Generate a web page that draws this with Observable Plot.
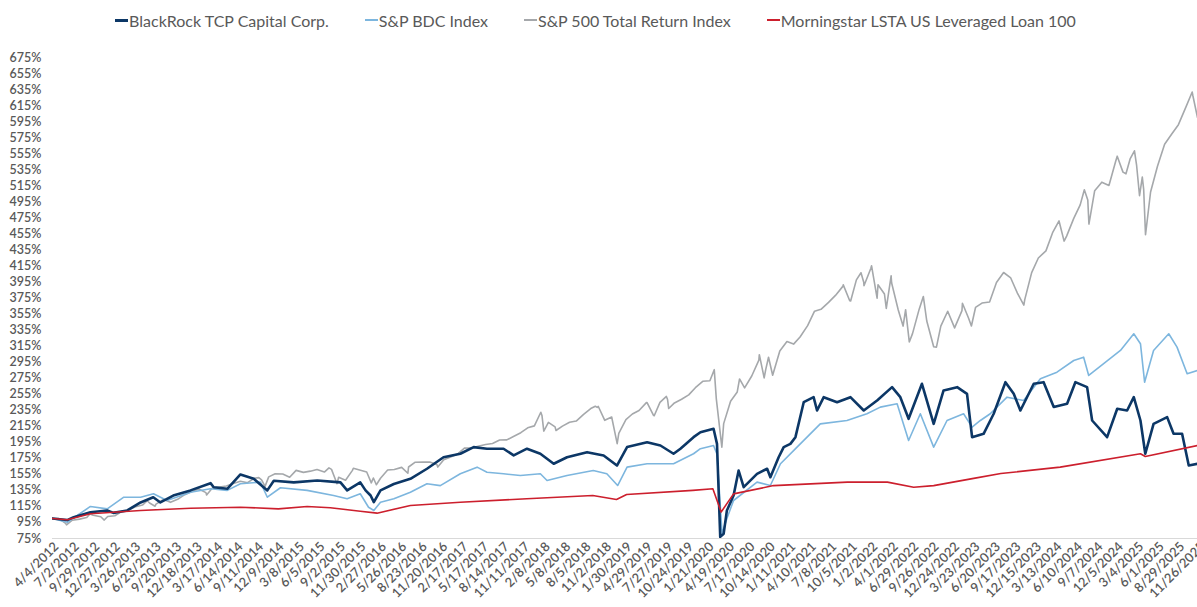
<!DOCTYPE html>
<html>
<head>
<meta charset="utf-8">
<script src="https://cdn.jsdelivr.net/npm/d3@7"></script>
<script src="https://cdn.jsdelivr.net/npm/@observablehq/plot@0.6"></script>
<style>
  html, body { margin: 0; padding: 0; background: #fff; }
  body { width: 1197px; height: 607px; overflow: hidden; font-family: Lato, "Open Sans", sans-serif; }
  #legend { height: 40px; display: flex; align-items: center; justify-content: center; gap: 36px; color: #595959; font-size: 16px; padding-right: 6px; box-sizing: border-box; }
  #legend .item { display: flex; align-items: center; white-space: nowrap; }
  #legend .sw { display: inline-block; width: 13px; margin-right: 1px; }
  #chart svg { display: block; }
</style>
</head>
<body>
<div id="legend"></div>
<div id="chart"></div>
<script>
// ---------- series names / colours ----------
const seriesNames = ["BlackRock TCP Capital Corp.", "S&P BDC Index", "S&P 500 Total Return Index", "Morningstar LSTA US Leveraged Loan 100"];
const seriesColors = ["#0c3766", "#7db6de", "#a5a8ab", "#cc1f2d"];

// ---------- axis ticks ----------
const xTickLabels = ["4/4/2012","7/2/2012","9/29/2012","12/27/2012","3/26/2013","6/23/2013","9/20/2013","12/18/2013","3/17/2014","6/14/2014","9/11/2014","12/9/2014","3/8/2015","6/5/2015","9/2/2015","11/30/2015","2/27/2016","5/26/2016","8/23/2016","11/20/2016","2/17/2017","5/17/2017","8/14/2017","11/11/2017","2/8/2018","5/8/2018","8/5/2018","11/2/2018","1/30/2019","4/29/2019","7/27/2019","10/24/2019","1/21/2020","4/19/2020","7/17/2020","10/14/2020","1/11/2021","4/10/2021","7/8/2021","10/5/2021","1/2/2022","4/1/2022","6/29/2022","9/26/2022","12/24/2022","3/23/2023","6/20/2023","9/17/2023","12/15/2023","3/13/2024","6/10/2024","9/7/2024","12/5/2024","3/4/2025","6/1/2025","8/29/2025","11/26/2025"];
const yTicks = [75,95,115,135,155,175,195,215,235,255,275,295,315,335,355,375,395,415,435,455,475,495,515,535,555,575,595,615,635,655,675];
const xStart = "2012-04-04", xEnd = "2025-11-20";

// ---------- S&P 500 Total Return Index ----------
const spxDates = [
"2012-04-04","2012-04-30","2012-05-31","2012-06-04","2012-06-29","2012-07-31","2012-08-31","2012-09-14","2012-09-28","2012-10-31","2012-11-15","2012-11-30","2012-12-31",
"2013-01-31","2013-02-28","2013-03-28","2013-04-30","2013-05-21","2013-05-31","2013-06-24","2013-06-28","2013-07-31","2013-08-30","2013-09-30","2013-10-31","2013-11-29","2013-12-31",
"2014-01-31","2014-02-03","2014-02-28","2014-03-31","2014-04-30","2014-05-30","2014-06-30","2014-07-31","2014-08-29","2014-09-18","2014-09-30","2014-10-15","2014-10-31","2014-11-28","2014-12-31",
"2015-01-30","2015-02-27","2015-03-31","2015-04-30","2015-05-29","2015-06-30","2015-07-20","2015-07-31","2015-08-24","2015-08-31","2015-09-30","2015-10-30","2015-11-03","2015-11-30","2015-12-31",
"2016-01-20","2016-01-29","2016-02-11","2016-02-29","2016-03-31","2016-04-29","2016-05-31","2016-06-27","2016-06-30","2016-07-29","2016-08-31","2016-09-30","2016-10-31","2016-11-04","2016-11-30","2016-12-30",
"2017-01-31","2017-02-28","2017-03-31","2017-04-28","2017-05-31","2017-06-30","2017-07-31","2017-08-31","2017-09-29","2017-10-31","2017-11-30","2017-12-29",
"2018-01-26","2018-01-31","2018-02-08","2018-02-28","2018-03-29","2018-04-02","2018-04-30","2018-05-31","2018-06-29","2018-07-31","2018-08-31","2018-09-20","2018-09-28","2018-10-03","2018-10-31","2018-11-30","2018-12-24","2018-12-31",
"2019-01-31","2019-02-28","2019-03-29","2019-04-30","2019-05-03","2019-05-31","2019-06-03","2019-06-28","2019-07-26","2019-07-31","2019-08-05","2019-08-30","2019-09-30","2019-10-31","2019-11-29","2019-12-31",
"2020-01-31","2020-02-19","2020-02-28","2020-03-23","2020-03-31","2020-04-30","2020-05-29","2020-06-08","2020-06-30","2020-07-31","2020-08-31","2020-09-02","2020-09-23","2020-09-30","2020-10-12","2020-10-30","2020-11-30","2020-12-31",
"2021-01-29","2021-02-26","2021-03-31","2021-04-30","2021-05-28","2021-06-30","2021-07-30","2021-08-31","2021-09-02","2021-09-30","2021-10-04","2021-10-29","2021-11-18","2021-11-30","2021-12-01","2021-12-31",
"2022-01-03","2022-01-27","2022-01-31","2022-02-28","2022-03-08","2022-03-29","2022-03-31","2022-04-29","2022-05-20","2022-05-31","2022-06-16","2022-06-30","2022-07-29","2022-08-16","2022-08-31","2022-09-30","2022-10-12","2022-10-31","2022-11-30","2022-12-30",
"2023-01-31","2023-02-02","2023-02-28","2023-03-13","2023-03-31","2023-04-28","2023-05-31","2023-06-30","2023-07-31","2023-08-31","2023-09-29","2023-10-27","2023-10-31","2023-11-30","2023-12-29",
"2024-01-31","2024-02-29","2024-03-28","2024-04-19","2024-04-30","2024-05-31","2024-06-28","2024-07-16","2024-07-31","2024-08-05","2024-08-30","2024-09-30","2024-10-31","2024-11-29","2024-12-06","2024-12-31",
"2025-01-13","2025-01-31","2025-02-19","2025-02-28","2025-03-13","2025-03-25","2025-03-31","2025-04-08","2025-04-30","2025-05-30","2025-06-30","2025-07-31","2025-08-29","2025-09-30","2025-10-28","2025-10-31","2025-11-20"];
const spxValues = [
100,100.0,93.9,92.0,97.8,99.2,101.3,105.7,104.0,102.1,98.0,102.5,103.4,
108.9,110.3,114.4,116.7,122.1,119.3,115.3,117.8,123.7,120.1,123.9,129.7,133.4,136.8,
132.2,129.3,138.1,139.3,140.4,143.5,146.5,144.6,150.2,150.9,148.1,140.0,151.9,155.7,155.4,
151.4,160.0,157.5,159.0,161.0,157.9,163.1,161.2,143.4,151.4,147.7,160.0,162.6,160.4,157.9,
144.4,150.5,142.0,150.2,160.4,161.0,163.7,156.4,164.2,170.2,170.3,170.4,167.2,164.1,173.2,176.8,
180.8,187.7,187.9,190.0,192.3,193.6,197.8,198.0,202.2,207.0,213.1,215.5,
232.5,228.5,209.0,219.8,214.3,209.7,215.2,220.1,221.5,229.9,237.1,239.9,238.6,239.7,222.4,226.6,193.3,206.1,
223.4,230.3,234.7,244.5,244.6,228.6,228.1,244.8,252.2,248.4,237.1,244.1,248.7,254.2,263.1,271.1,
271.8,285.6,249.1,188.9,218.3,246.2,257.8,274.0,262.8,277.7,297.5,304.3,275.3,286.0,301.1,278.6,308.8,320.8,
317.5,326.3,340.5,358.6,360.9,369.5,378.2,389.5,391.4,371.6,371.3,397.6,406.5,394.6,390.3,412.2,
415.2,374.8,391.6,380.0,362.0,402.7,394.0,360.0,340.0,360.4,320.2,330.6,361.1,376.9,346.3,314.2,313.7,339.9,358.5,337.7,
359.3,368.4,350.3,340.1,363.2,368.7,370.0,394.3,406.8,400.0,381.1,366.2,373.0,406.6,424.9,
433.8,456.5,471.1,446.0,452.2,474.3,491.2,510.1,497.1,467.2,508.8,519.5,515.3,545.2,551.9,532.0,
529.9,548.4,558.6,541.2,502.6,525.8,510.6,453.9,507.2,539.4,566.7,579.6,591.2,612.8,631.9,627.3,600.1];

// ---------- S&P BDC Index ----------
const bdcDates = ["2012-04-04","2012-06-07","2012-09-16","2012-11-28","2013-02-08","2013-04-22","2013-06-17","2013-08-15","2013-11-25","2014-02-20","2014-05-04","2014-06-30","2014-09-25","2014-10-25","2014-12-21",
"2015-04-16","2015-08-09","2015-10-07","2015-12-03","2016-01-08","2016-01-31","2016-02-29","2016-04-27","2016-07-08","2016-09-18","2016-11-15",
"2017-02-10","2017-04-24","2017-06-06","2017-08-17","2017-10-29","2018-01-24","2018-02-22","2018-05-20","2018-09-11","2018-11-09","2018-12-26",
"2019-02-05","2019-05-03","2019-08-26","2019-11-21","2019-12-21","2020-02-16","2020-03-02","2020-03-24","2020-04-14","2020-05-13","2020-08-23","2020-10-20","2020-12-03",
"2021-02-13","2021-05-25","2021-09-18","2021-12-14","2022-02-10","2022-04-24","2022-06-13","2022-08-03","2022-09-30","2022-11-27",
"2023-02-07","2023-03-16","2023-04-21","2023-06-03","2023-08-15","2023-10-26","2024-01-07","2024-03-19","2024-05-31","2024-07-13","2024-08-04","2024-10-08","2024-12-20",
"2025-02-16","2025-03-17","2025-04-04","2025-05-13","2025-07-18","2025-08-23","2025-10-06","2025-11-20"];
const bdcValues = [100,95.3,115,112,126.5,126.5,130.8,122.4,132.8,137,135,143.2,145.3,126.5,138.3,
135,128.6,124.5,130.8,114,110,120.3,124.5,132.8,143.2,141,
155.7,164,157.7,155.7,153.6,155.7,147.4,153.6,159.8,155.7,141.1,
164,168.2,168.2,180.7,187,191,180,81,100,122.4,145.3,141.1,168.2,
189,218,222.2,230.6,238.9,243,197.3,230.6,189,222.2,
230.6,213.9,222.2,230.6,251.3,247.2,274.3,282.5,297,301.2,278.4,293,309.6,
330.4,318,270,309.6,330.4,313.7,280.5,284.6];

// ---------- BlackRock TCP Capital Corp. ----------
const tcpcDates = ["2012-04-04","2012-06-07","2012-07-05","2012-09-16","2012-11-28","2012-12-25","2013-02-23","2013-04-22","2013-06-16","2013-07-17","2013-09-11","2013-11-25",
"2014-02-20","2014-03-06","2014-05-04","2014-06-30","2014-08-27","2014-10-25","2014-11-22","2015-02-17","2015-05-30","2015-09-08","2015-10-07","2015-12-03","2015-12-26",
"2016-01-17","2016-01-31","2016-02-29","2016-04-27","2016-07-08","2016-09-18","2016-11-29","2017-02-10","2017-04-09","2017-06-06","2017-08-17","2017-09-30","2017-11-27",
"2018-01-24","2018-03-23","2018-05-20","2018-08-15","2018-10-26","2018-12-23","2019-02-05","2019-05-03","2019-06-30","2019-08-26","2019-09-25","2019-11-21","2019-12-21",
"2020-02-16","2020-03-02","2020-03-16","2020-03-31","2020-04-14","2020-05-13","2020-06-04","2020-06-26","2020-08-23","2020-10-06","2020-10-20","2020-11-25","2020-12-17",
"2021-01-15","2021-02-06","2021-03-14","2021-04-26","2021-05-11","2021-06-09","2021-08-06","2021-10-03","2021-11-30",
"2022-01-27","2022-04-02","2022-05-08","2022-06-13","2022-08-10","2022-09-30","2022-11-12",
"2023-01-10","2023-02-22","2023-03-16","2023-05-05","2023-06-18","2023-08-08","2023-09-13","2023-10-12","2023-12-09",
"2024-01-21","2024-03-05","2024-05-02","2024-06-07","2024-07-28","2024-08-19","2024-10-23","2024-12-06",
"2025-01-18","2025-02-16","2025-03-17","2025-04-07","2025-05-13","2025-07-11","2025-08-08","2025-09-14","2025-10-13","2025-11-20"];
const tcpcValues = [100,98,101.6,107.8,110,107,110,120,126.5,120,128.6,135,
144,139,137,154.9,149.5,135,147,145,147.4,145,135,145,135,
128.6,120.3,135,143,149.5,162,176.4,180.7,189,187,187,178.6,187,
180.7,168.2,176.4,182.7,178.6,166,189,195,191,180.7,187,201.4,207.6,
211.9,193,77,81,110,128.6,159.8,139,155.7,162,151.5,176.4,189,
193,201.4,245,251.3,234.7,251.3,245,251.3,234.7,
247.2,263.8,251.3,224.3,268,218,259.7,
263.8,255.5,201.4,205.6,230.6,270,255.5,234.7,268,
270,239,243,270,263.8,222.2,201.4,236.8,
234.7,251.3,222.2,180.7,218,226.4,205.6,205.6,166,168.2];

// ---------- Morningstar LSTA US Leveraged Loan 100 ----------
const loanDates = ["2012-04-04","2012-06-07","2012-09-16","2013-04-22","2013-11-25","2014-06-30","2014-12-12","2015-04-16","2015-07-26","2015-12-03","2016-02-14","2016-07-08","2017-02-10","2017-11-26",
"2018-09-09","2018-12-21","2019-02-03","2019-11-18","2020-02-13","2020-03-20","2020-05-13","2020-11-03","2021-09-20","2022-03-13","2022-07-05","2022-09-30","2023-03-23","2023-07-19","2024-04-02","2025-03-17","2025-04-07","2025-11-20"];
const loanValues = [100,98.3,105.8,110,112.8,114,112,115,113.3,109,106.6,116.2,120.3,124.5,
128.6,123.7,129.9,135,137,108,130.7,141,145.3,145.3,139,141,150,156,164,180.7,177.3,191];

// ---------- build ----------
const parse = s => new Date(s + "T00:00:00Z");
const parseMDY = s => { const [m, d, y] = s.split("/").map(Number); return new Date(Date.UTC(y, m - 1, d)); };
const toRows = (dates, values) => dates.map((d, i) => ({date: parse(d), value: values[i]}));
const rows = [toRows(tcpcDates, tcpcValues), toRows(bdcDates, bdcValues), toRows(spxDates, spxValues), toRows(loanDates, loanValues)];
const xTicks = xTickLabels.map(parseMDY);
const fmt = d => `${d.getUTCMonth() + 1}/${d.getUTCDate()}/${d.getUTCFullYear()}`;

// legend
const legend = document.getElementById("legend");
seriesNames.forEach((n, i) => {
  const it = document.createElement("div"); it.className = "item";
  const sw = document.createElement("span"); sw.className = "sw";
  sw.style.borderTop = `${i === 0 ? 3 : 2}px solid ${seriesColors[i]}`;
  it.appendChild(sw); it.appendChild(document.createTextNode(n));
  legend.appendChild(it);
});

const chart = Plot.plot({
  width: 1197,
  height: 567,
  marginTop: 17,
  marginBottom: 69,
  marginLeft: 52,
  marginRight: 0,
  style: {fontFamily: "Lato, 'Open Sans', sans-serif", color: "#595959", background: "#fff"},
  x: {type: "utc", domain: [parse(xStart), parse(xEnd)]},
  y: {domain: [75, 675]},
  marks: [
    Plot.ruleY([75], {stroke: "#d9d9d9", strokeWidth: 1}),
    Plot.axisY({ticks: yTicks, tickSize: 0, tickPadding: 11, tickFormat: d => d + "%", fontSize: 12.5, fontWeight: 600, label: null}),
    Plot.axisX({ticks: xTicks, tickSize: 0, tickPadding: 6, dx: 4, tickRotate: -45, tickFormat: fmt, fontSize: 13, fontWeight: 600, textAnchor: "end", label: null}),
    Plot.line(rows[2], {x: "date", y: "value", stroke: seriesColors[2], strokeWidth: 1.6, clip: true}),
    Plot.line(rows[1], {x: "date", y: "value", stroke: seriesColors[1], strokeWidth: 1.6, clip: true}),
    Plot.line(rows[0], {x: "date", y: "value", stroke: seriesColors[0], strokeWidth: 2.6, clip: true}),
    Plot.line(rows[3], {x: "date", y: "value", stroke: seriesColors[3], strokeWidth: 1.6, clip: true})
  ]
});
document.getElementById("chart").appendChild(chart);
</script>
</body>
</html>
